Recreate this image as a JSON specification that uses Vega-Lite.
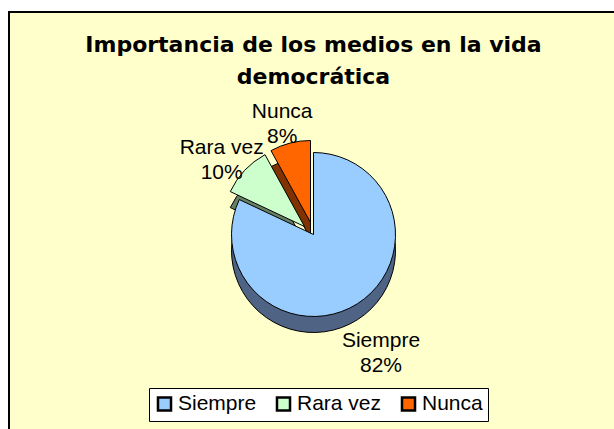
{
  "$schema": "https://vega.github.io/schema/vega-lite/v6.json",
  "width": 614,
  "height": 429,
  "autosize": {"type": "fit", "contains": "padding"},
  "padding": {"left": 9, "top": 12, "right": -4, "bottom": -28},
  "background": "white",
  "view": {"fill": "#FFFFCC", "stroke": "black", "strokeWidth": 2},
  "title": {
    "text": ["Importancia de los medios en la vida", "democrática"],
    "font": "DejaVu Sans",
    "fontSize": 22,
    "fontWeight": "bold",
    "color": "black",
    "anchor": "middle",
    "lineHeight": 32,
    "offset": -77
  },
  "data": {
    "values": [
      {"Respuesta": "Siempre", "Porcentaje": 82, "orden": 1},
      {"Respuesta": "Rara vez", "Porcentaje": 10, "orden": 2},
      {"Respuesta": "Nunca", "Porcentaje": 8, "orden": 3}
    ]
  },
  "transform": [
    {"calculate": "[datum.Respuesta, datum.Porcentaje + '%']", "as": "etiqueta"}
  ],
  "encoding": {
    "theta": {"field": "Porcentaje", "type": "quantitative", "stack": true},
    "order": {"field": "orden", "type": "quantitative"}
  },
  "layer": [
    {
      "mark": {
        "type": "arc",
        "outerRadius": 82,
        "stroke": "black",
        "strokeWidth": 1,
        "xOffset": {"expr": "datum.Respuesta == 'Rara vez' ? -9 : datum.Respuesta == 'Nunca' ? -3 : 0"},
        "yOffset": {"expr": "(datum.Respuesta == 'Rara vez' ? -8 : datum.Respuesta == 'Nunca' ? -12 : 0) + 16"}
      },
      "encoding": {
        "color": {
          "field": "Respuesta",
          "type": "nominal",
          "scale": {"domain": ["Siempre", "Rara vez", "Nunca"], "range": ["#4F6384", "#668066", "#803300"]},
          "legend": null
        }
      }
    },
    {
      "mark": {
        "type": "arc",
        "outerRadius": 82,
        "stroke": "black",
        "strokeWidth": 1,
        "xOffset": {"expr": "datum.Respuesta == 'Rara vez' ? -9 : datum.Respuesta == 'Nunca' ? -3 : 0"},
        "yOffset": {"expr": "datum.Respuesta == 'Rara vez' ? -8 : datum.Respuesta == 'Nunca' ? -12 : 0"}
      },
      "encoding": {
        "color": {
          "field": "Respuesta",
          "type": "nominal",
          "scale": {"domain": ["Siempre", "Rara vez", "Nunca"], "range": ["#99CCFF", "#CCFFCC", "#FF6600"]},
          "legend": {
            "title": null,
            "orient": "none",
            "legendX": 140,
            "legendY": 376,
            "direction": "horizontal",
            "fillColor": "white",
            "strokeColor": "black",
            "padding": 5,
            "symbolType": "square",
            "symbolSize": 170,
            "symbolStrokeColor": "black",
            "symbolStrokeWidth": 2.5,
            "symbolOpacity": 1,
            "labelFont": "Liberation Sans",
            "labelFontSize": 21,
            "labelColor": "black",
            "labelOffset": 3,
            "columnPadding": 14
          }
        }
      }
    },
    {
      "mark": {
        "type": "text",
        "radius": 126,
        "font": "Liberation Sans",
        "fontSize": 21,
        "color": "black",
        "lineHeight": 25
      },
      "encoding": {
        "text": {"field": "etiqueta"}
      }
    }
  ],
  "resolve": {"scale": {"color": "independent"}}
}
